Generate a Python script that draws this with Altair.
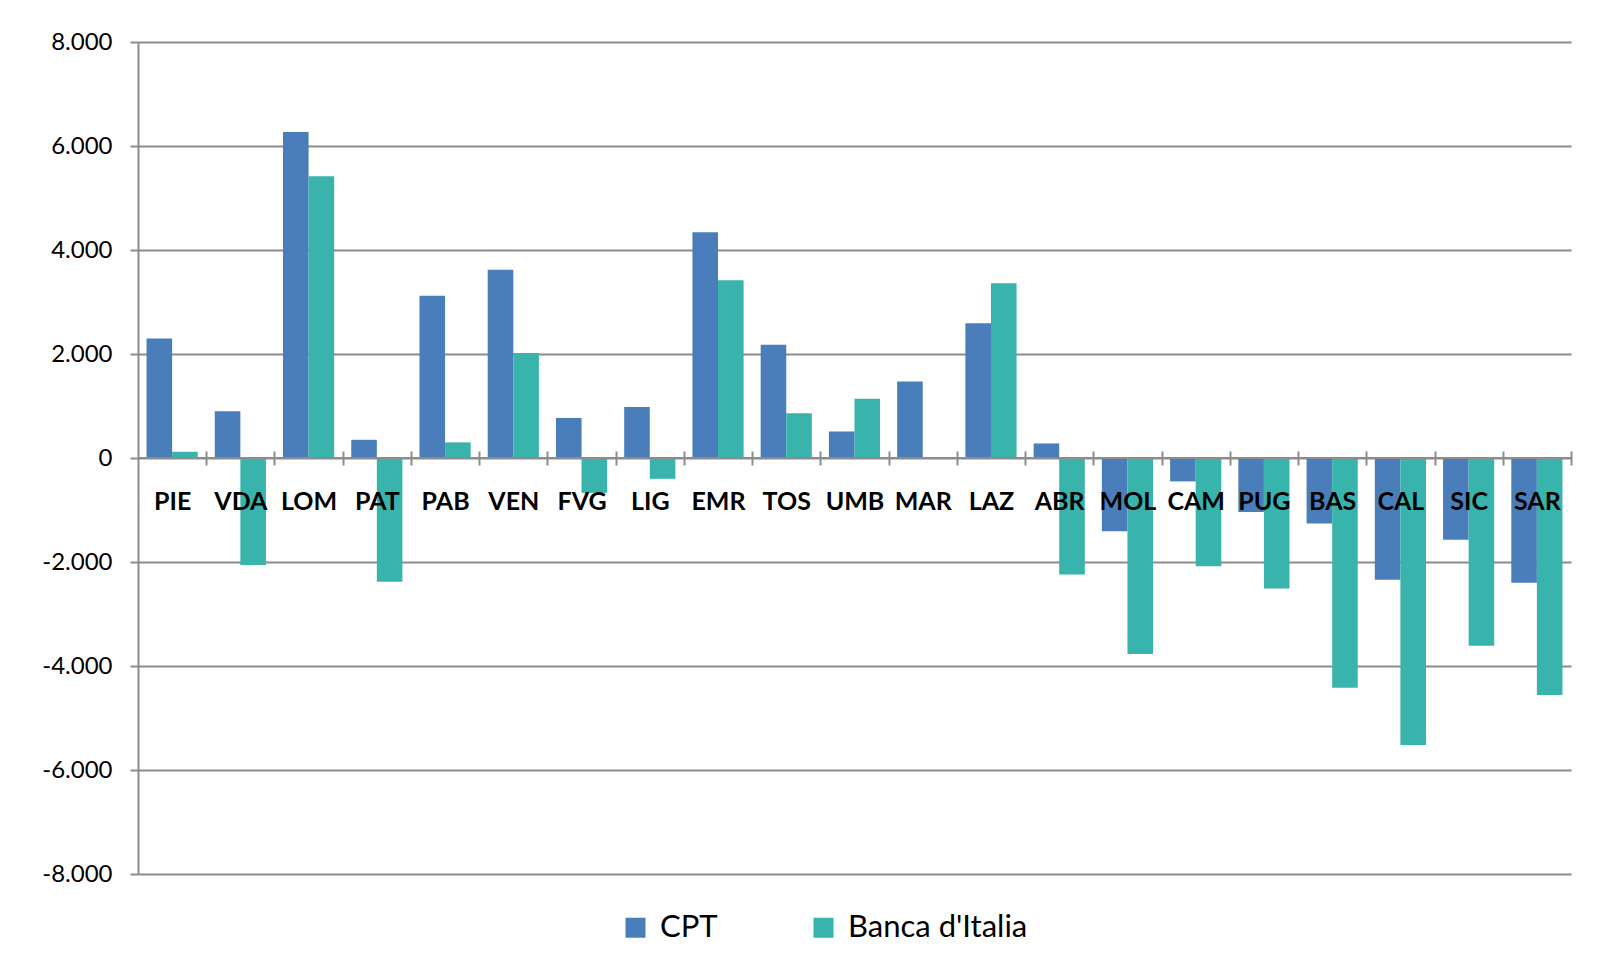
import altair as alt
import pandas as pd

regions = ["PIE", "VDA", "LOM", "PAT", "PAB", "VEN", "FVG", "LIG", "EMR", "TOS", "UMB",
           "MAR", "LAZ", "ABR", "MOL", "CAM", "PUG", "BAS", "CAL", "SIC", "SAR"]
cpt = [2300, 900, 6270, 350, 3120, 3620, 770, 980, 4340, 2180, 510,
       1470, 2590, 280, -1410, -450, -1040, -1260, -2340, -1570, -2400]
banca = [120, -2060, 5420, -2380, 300, 2020, -670, -400, 3420, 860, 1140,
         0, 3360, -2240, -3770, -2080, -2510, -4420, -5520, -3610, -4560]
series = ["CPT", "Banca d'Italia"]
colors = ["#4A7EBB", "#38B4AC"]
y_ticks = [-8000, -6000, -4000, -2000, 0, 2000, 4000, 6000, 8000]

rows = []
for r, a, b in zip(regions, cpt, banca):
    rows.append({"region": r, "serie": series[0], "valore": a})
    rows.append({"region": r, "serie": series[1], "valore": b})
df = pd.DataFrame(rows)

W, H = 1433, 832
step = W / len(regions)
half_gap = 0.25 * step / 2
GRAY = "#8C8C8C"

bars = alt.Chart(df).mark_bar().encode(
    x=alt.X("region:N", sort=regions,
            scale=alt.Scale(paddingInner=0.25, paddingOuter=0.125),
            axis=alt.Axis(title=None, domain=False, bandPosition=1,
                          tickOffset=half_gap, labelOffset=-half_gap,
                          tickSize=14, tickColor=GRAY, tickWidth=2,
                          offset=-(H / 2) - 7, labelAngle=0, zindex=1,
                          labelFont="Lato", labelFontSize=25, labelFontWeight="bold",
                          labelColor="black", labelPadding=24, labelBaseline="top")),
    xOffset=alt.XOffset("serie:N", sort=series, scale=alt.Scale(paddingInner=0, paddingOuter=0)),
    y=alt.Y("valore:Q", scale=alt.Scale(domain=[-8000, 8000], nice=False, zero=False),
            axis=alt.Axis(title=None, values=y_ticks, grid=True, gridColor=GRAY, gridWidth=2,
                          domainColor=GRAY, domainWidth=2, tickColor=GRAY, tickWidth=2,
                          tickSize=8, labelFont="Lato", labelFontSize=24, labelColor="black",
                          labelPadding=18,
                          labelExpr="(datum.value < 0 ? '-' : '') + replace(format(abs(datum.value), ','), ',', '.')")),
    color=alt.Color("serie:N", sort=series,
                    scale=alt.Scale(domain=series, range=colors),
                    legend=alt.Legend(title=None, orient="none", legendX=482, legendY=870,
                                      direction="horizontal", symbolType="square",
                                      symbolSize=400, symbolStrokeWidth=0,
                                      labelFont="Lato", labelFontSize=31, labelColor="black",
                                      labelLimit=400,
                                      labelOffset=9, columnPadding=90, padding=0))
)

zero = alt.Chart(pd.DataFrame({"z": [0]})).mark_rule(color=GRAY, strokeWidth=2).encode(
    y=alt.Y("z:Q")
)

chart = alt.layer(bars, zero).properties(
    width=W, height=H,
    autosize=alt.AutoSizeParams(type="none"),
    padding={"left": 130, "top": 34, "right": 23, "bottom": 73},
    background="white",
).configure_view(stroke=None)

chart.save("out.html", embed_options={"renderer": "svg", "actions": False})
